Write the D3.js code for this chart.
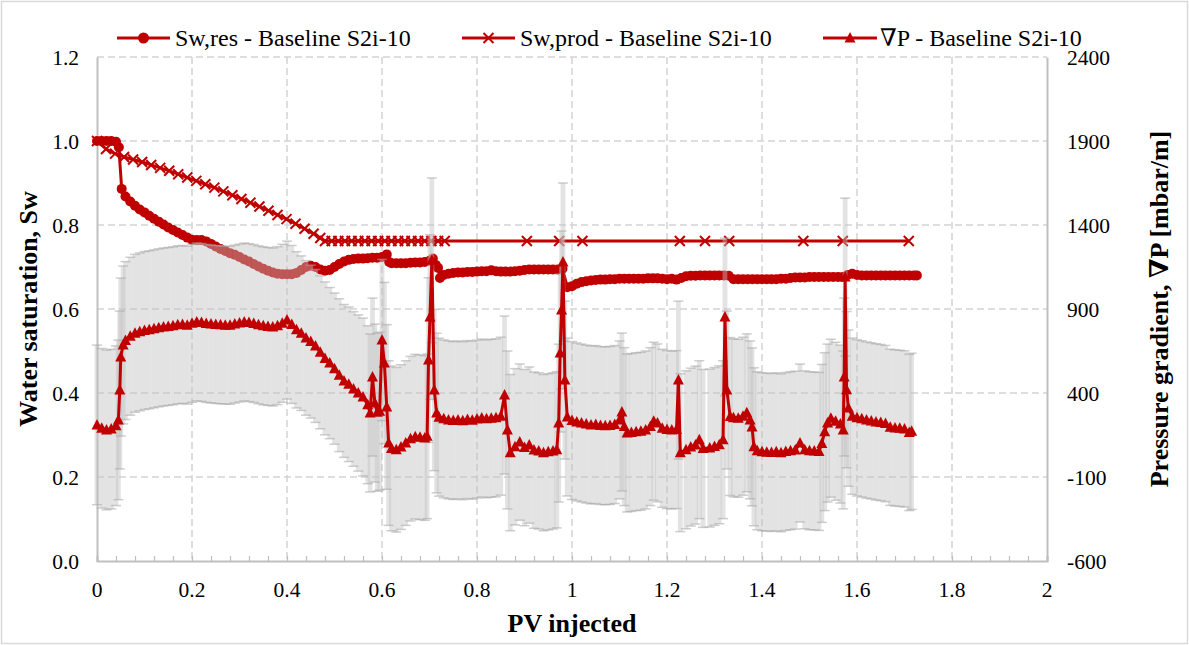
<!DOCTYPE html>
<html>
<head>
<meta charset="utf-8">
<script src="https://cdn.jsdelivr.net/npm/d3@7"></script>
<style>
  html, body { margin: 0; padding: 0; background: #fff; }
  svg, svg text { font-family: "Liberation Serif", "Times New Roman", Tinos, "DejaVu Serif", serif; }
</style>
</head>
<body>
<svg id="chart" width="1189" height="645" font-family="Liberation Serif, Times New Roman, serif"></svg>
<script>
// ---- Data ---------------------------------------------------------------
// Residual water saturation in the core [PV injected, Sw]
const swRes = [
  [0.000,1.000],[0.010,1.000],[0.020,1.000],[0.030,1.000],[0.040,0.998],[0.046,0.985],
  [0.052,0.886],[0.060,0.868],[0.070,0.856],[0.080,0.846],[0.090,0.837],[0.100,0.830],
  [0.110,0.822],[0.120,0.815],[0.130,0.808],[0.140,0.801],[0.150,0.794],[0.160,0.788],
  [0.170,0.782],[0.180,0.776],[0.190,0.770],[0.200,0.765],[0.210,0.764],[0.220,0.764],
  [0.230,0.761],[0.240,0.755],[0.250,0.749],[0.260,0.743],[0.270,0.738],[0.280,0.733],
  [0.290,0.729],[0.300,0.724],[0.310,0.718],[0.320,0.713],[0.330,0.707],[0.340,0.701],
  [0.350,0.696],[0.360,0.691],[0.370,0.687],[0.380,0.684],[0.390,0.683],[0.400,0.683],
  [0.410,0.683],[0.420,0.686],[0.430,0.693],[0.440,0.700],[0.450,0.703],[0.460,0.700],
  [0.470,0.694],[0.480,0.691],[0.490,0.693],[0.500,0.700],[0.510,0.707],[0.520,0.713],
  [0.530,0.717],[0.540,0.719],[0.550,0.720],[0.560,0.720],[0.570,0.721],[0.580,0.722],
  [0.590,0.722],[0.600,0.724],[0.610,0.730],[0.615,0.712],[0.620,0.709],[0.630,0.709],
  [0.640,0.709],[0.650,0.709],[0.660,0.710],[0.670,0.711],[0.680,0.711],[0.690,0.712],
  [0.700,0.715],[0.707,0.720],[0.713,0.705],[0.718,0.698],[0.722,0.674],[0.730,0.681],
  [0.740,0.684],[0.750,0.686],[0.760,0.687],[0.770,0.687],[0.780,0.688],[0.790,0.688],
  [0.800,0.689],[0.810,0.690],[0.820,0.690],[0.830,0.692],[0.840,0.690],[0.850,0.689],
  [0.860,0.689],[0.870,0.689],[0.880,0.690],[0.890,0.691],[0.900,0.693],[0.910,0.694],
  [0.920,0.694],[0.930,0.694],[0.940,0.694],[0.950,0.694],[0.960,0.694],[0.970,0.694],
  [0.980,0.696],[0.990,0.652],[1.000,0.654],[1.010,0.660],[1.020,0.664],[1.030,0.666],
  [1.040,0.668],[1.050,0.669],[1.060,0.670],[1.070,0.670],[1.080,0.671],[1.090,0.671],
  [1.100,0.672],[1.110,0.672],[1.120,0.672],[1.130,0.672],[1.140,0.672],[1.150,0.672],
  [1.160,0.673],[1.170,0.673],[1.180,0.673],[1.190,0.672],[1.200,0.671],[1.210,0.672],
  [1.220,0.670],[1.230,0.674],[1.240,0.678],[1.250,0.679],[1.260,0.679],[1.270,0.680],
  [1.280,0.680],[1.290,0.680],[1.300,0.680],[1.310,0.680],[1.320,0.680],[1.330,0.679],
  [1.340,0.671],[1.350,0.671],[1.360,0.671],[1.370,0.671],[1.380,0.671],[1.390,0.671],
  [1.400,0.671],[1.410,0.671],[1.420,0.671],[1.430,0.671],[1.440,0.672],[1.450,0.672],
  [1.460,0.674],[1.470,0.675],[1.480,0.675],[1.490,0.675],[1.500,0.676],[1.510,0.676],
  [1.520,0.676],[1.530,0.676],[1.540,0.676],[1.550,0.676],[1.560,0.676],[1.570,0.676],
  [1.580,0.681],[1.590,0.684],[1.600,0.681],[1.610,0.680],[1.620,0.680],[1.630,0.680],
  [1.640,0.680],[1.650,0.680],[1.660,0.680],[1.670,0.680],[1.680,0.680],[1.690,0.680],
  [1.700,0.680],[1.710,0.680],[1.720,0.680],[1.726,0.680]
];

// Water saturation of the produced fluid [PV injected, Sw]
const swProd = [
  [0.000,1.000],[0.019,0.981],[0.038,0.970],[0.057,0.962],[0.076,0.956],[0.095,0.950],
  [0.114,0.943],[0.133,0.936],[0.152,0.929],[0.171,0.921],[0.190,0.913],[0.209,0.905],
  [0.228,0.897],[0.247,0.889],[0.266,0.880],[0.285,0.871],[0.304,0.862],[0.323,0.853],
  [0.342,0.844],[0.361,0.834],[0.380,0.824],[0.399,0.814],[0.418,0.803],[0.437,0.791],
  [0.456,0.779],[0.470,0.769],[0.480,0.762],[0.494,0.762],[0.508,0.762],[0.522,0.762],
  [0.536,0.762],[0.550,0.762],[0.564,0.762],[0.578,0.762],[0.592,0.762],[0.606,0.762],
  [0.620,0.762],[0.634,0.762],[0.648,0.762],[0.662,0.762],[0.676,0.762],[0.690,0.762],
  [0.704,0.762],[0.718,0.762],[0.732,0.762],[0.905,0.762],[0.973,0.762],[1.022,0.762],
  [1.227,0.762],[1.280,0.762],[1.331,0.762],[1.487,0.762],[1.570,0.762],[1.709,0.762]
];

// Pressure gradient [PV injected, ∇P mbar/m, error ± mbar/m]
const gradP = [
  [0.000,210,475],[0.010,190,475],[0.020,180,475],[0.030,185,475],[0.040,205,475],[0.045,240,475],
  [0.048,418,470],[0.050,614,470],[0.055,686,470],[0.060,712,470],[0.070,738,470],[0.080,755,470],
  [0.090,764,470],[0.100,772,470],[0.110,776,470],[0.120,782,470],[0.130,788,470],[0.140,793,470],
  [0.150,796,470],[0.160,800,470],[0.170,806,470],[0.180,808,470],[0.190,804,470],[0.200,815,470],
  [0.210,823,470],[0.220,820,470],[0.230,814,470],[0.240,811,470],[0.250,808,470],[0.260,806,470],
  [0.270,804,470],[0.280,803,470],[0.290,810,470],[0.300,816,470],[0.310,823,470],[0.320,819,470],
  [0.330,814,470],[0.340,806,470],[0.350,800,470],[0.360,796,470],[0.370,793,470],[0.380,801,470],
  [0.390,815,470],[0.400,834,470],[0.410,808,470],[0.420,776,465],[0.430,756,460],[0.440,728,460],
  [0.450,706,455],[0.460,680,455],[0.470,642,455],[0.480,606,455],[0.490,578,450],[0.500,545,450],
  [0.510,506,455],[0.520,472,455],[0.530,452,460],[0.540,424,460],[0.550,400,465],[0.560,376,470],
  [0.570,330,470],[0.575,281,470],[0.580,495,470],[0.585,340,470],[0.590,285,470],[0.595,292,470],
  [0.600,715,480],[0.605,578,480],[0.610,317,490],[0.614,102,490],[0.620,70,490],[0.630,62,490],
  [0.640,78,490],[0.650,102,490],[0.660,128,490],[0.670,140,490],[0.680,136,490],[0.690,132,490],
  [0.695,142,490],[0.698,596,490],[0.701,852,490],[0.705,1190,490],[0.710,418,480],[0.715,281,475],
  [0.720,256,470],[0.730,246,470],[0.740,240,470],[0.750,236,470],[0.760,240,470],[0.770,235,470],
  [0.780,242,470],[0.790,238,470],[0.800,245,470],[0.810,251,470],[0.820,246,470],[0.830,250,470],
  [0.840,252,470],[0.850,262,470],[0.858,388,470],[0.864,180,470],[0.870,45,465],[0.880,80,465],
  [0.890,108,465],[0.900,75,465],[0.910,90,465],[0.920,60,465],[0.930,55,465],[0.940,45,465],
  [0.950,50,465],[0.960,55,465],[0.968,62,465],[0.972,221,470],[0.975,638,470],[0.978,894,470],
  [0.981,1180,470],[0.985,477,470],[0.990,257,470],[1.000,236,470],[1.010,228,470],[1.020,221,470],
  [1.030,215,470],[1.040,210,470],[1.050,212,470],[1.060,206,470],[1.070,205,470],[1.080,207,470],
  [1.090,212,470],[1.100,240,470],[1.105,287,470],[1.110,200,470],[1.116,162,470],[1.125,165,470],
  [1.135,170,470],[1.145,172,470],[1.155,180,470],[1.165,200,470],[1.172,232,470],[1.180,222,470],
  [1.190,190,470],[1.200,182,470],[1.210,180,470],[1.220,182,470],[1.224,477,470],[1.228,45,470],
  [1.240,62,470],[1.250,78,470],[1.260,90,470],[1.268,122,470],[1.276,70,470],[1.290,72,470],
  [1.300,82,470],[1.310,92,470],[1.318,122,470],[1.322,852,470],[1.326,418,470],[1.333,260,470],
  [1.340,252,470],[1.350,250,470],[1.360,262,470],[1.368,282,470],[1.375,240,470],[1.379,198,470],
  [1.383,80,470],[1.390,56,470],[1.400,50,470],[1.410,48,470],[1.420,46,470],[1.430,50,470],
  [1.440,44,470],[1.450,52,470],[1.460,56,470],[1.470,60,470],[1.480,102,470],[1.490,62,470],
  [1.500,56,470],[1.510,55,470],[1.520,52,470],[1.526,100,470],[1.532,170,470],[1.538,221,470],
  [1.545,250,470],[1.555,232,470],[1.565,215,470],[1.571,180,470],[1.573,495,470],[1.575,1090,470],
  [1.578,420,465],[1.582,310,465],[1.590,262,465],[1.600,252,465],[1.610,246,465],[1.620,239,465],
  [1.630,234,465],[1.640,228,465],[1.650,224,465],[1.660,218,465],[1.670,196,465],[1.680,192,465],
  [1.690,190,465],[1.700,186,465],[1.710,165,465],[1.715,172,465]
];

const xTicks = [0, 0.2, 0.4, 0.6, 0.8, 1, 1.2, 1.4, 1.6, 1.8, 2];
const xMinorTicks = d3.range(0, 2.0001, 0.04);
const yLeftTicks = [0, 0.2, 0.4, 0.6, 0.8, 1.0, 1.2];
const yRightTicks = [-600, -100, 400, 900, 1400, 1900, 2400];
const seriesNames = ["Sw,res - Baseline S2i-10", "Sw,prod - Baseline S2i-10", "\u2207P - Baseline S2i-10"];
const axisTitles = { x: "PV injected", yLeft: "Water saturation, Sw", yRight: "Pressure gradient, \u2207P [mbar/m]" };

// ---- Layout -------------------------------------------------------------
const W = 1189, H = 645;
const plot = { left: 97, right: 1047, top: 57, bottom: 561 };
const RED = "#C00000";
const AXIS = "#bfbfbf";
const GRID = "#d4d4d4";
const FONT = "Liberation Serif, Times New Roman, Tinos, DejaVu Serif, serif";

const svg = d3.select("#chart");
svg.append("rect").attr("x", 1.5).attr("y", 1.5).attr("width", W - 3).attr("height", H - 3)
  .attr("fill", "#fff").attr("stroke", "#d9d9d9").attr("stroke-width", 1.5);

const x = d3.scaleLinear().domain([0, 2]).range([plot.left, plot.right]);
const yL = d3.scaleLinear().domain([0, 1.2]).range([plot.bottom, plot.top]);
const yR = d3.scaleLinear().domain([-600, 2400]).range([plot.bottom, plot.top]);

// ---- Grid ---------------------------------------------------------------
const grid = svg.append("g");
grid.selectAll("line.h").data(yLeftTicks.filter(d => d > 0)).join("line")
  .attr("x1", plot.left).attr("x2", plot.right)
  .attr("y1", d => yL(d)).attr("y2", d => yL(d))
  .attr("stroke", GRID).attr("stroke-width", 1.5).attr("stroke-dasharray", "7,4");
grid.selectAll("line.v").data(xTicks.filter(d => d > 0 && d < 2)).join("line")
  .attr("x1", d => x(d)).attr("x2", d => x(d))
  .attr("y1", plot.top).attr("y2", plot.bottom)
  .attr("stroke", GRID).attr("stroke-width", 1.5).attr("stroke-dasharray", "7,4");

// ---- Axes ---------------------------------------------------------------
const xAxis = d3.axisBottom(x).tickValues(xMinorTicks).tickSize(-5).tickFormat("");
const gx = svg.append("g").attr("transform", `translate(0,${plot.bottom})`).call(xAxis);
gx.select(".domain").attr("stroke", AXIS).attr("stroke-width", 2);
gx.selectAll(".tick line").attr("stroke", AXIS).attr("stroke-width", 1.2);

const gyl = svg.append("g").attr("transform", `translate(${plot.left},0)`)
  .call(d3.axisLeft(yL).tickValues(yLeftTicks).tickSize(0).tickFormat(""));
gyl.select(".domain").attr("stroke", AXIS).attr("stroke-width", 2);
const gyr = svg.append("g").attr("transform", `translate(${plot.right},0)`)
  .call(d3.axisRight(yR).tickValues(yRightTicks).tickSize(0).tickFormat(""));
gyr.select(".domain").attr("stroke", AXIS).attr("stroke-width", 2);

// Tick labels
const tickFont = 21.5;
svg.append("g").selectAll("text").data(xTicks).join("text")
  .attr("x", d => x(d)).attr("y", 597).attr("text-anchor", "middle")
  .attr("font-family", FONT).attr("font-size", tickFont).attr("fill", "#000")
  .text(d => d3.format("~g")(d));
svg.append("g").selectAll("text").data(yLeftTicks).join("text")
  .attr("x", 79).attr("y", d => yL(d) + 8).attr("text-anchor", "end")
  .attr("font-family", FONT).attr("font-size", tickFont).attr("fill", "#000")
  .text(d => d3.format(".1f")(d));
svg.append("g").selectAll("text").data(yRightTicks).join("text")
  .attr("x", 1067).attr("y", d => yR(d) + 8).attr("text-anchor", "start")
  .attr("font-family", FONT).attr("font-size", tickFont).attr("fill", "#000")
  .text(d => d);

// Axis titles
svg.append("text").attr("x", (plot.left + plot.right) / 2).attr("y", 632)
  .attr("text-anchor", "middle").attr("font-family", FONT).attr("font-size", 26).attr("font-weight", "bold")
  .text(axisTitles.x);
svg.append("text").attr("transform", `translate(37,${(plot.top + plot.bottom) / 2}) rotate(-90)`)
  .attr("text-anchor", "middle").attr("font-family", FONT).attr("font-size", 26).attr("font-weight", "bold")
  .text(axisTitles.yLeft);
svg.append("text").attr("transform", `translate(1168,${(plot.top + plot.bottom) / 2}) rotate(-90)`)
  .attr("text-anchor", "middle").attr("font-family", FONT).attr("font-size", 26).attr("font-weight", "bold")
  .text(axisTitles.yRight);

// ---- Series -------------------------------------------------------------
const crossPath = "M-5,-5L5,5M-5,5L5,-5";
const triPath = "M0,-6L5.5,4.5L-5.5,4.5Z";

// Sw,res
const lineL = d3.line().x(d => x(d[0])).y(d => yL(d[1]));
svg.append("path").datum(swRes).attr("d", lineL)
  .attr("fill", "none").attr("stroke", RED).attr("stroke-width", 3);
svg.append("g").selectAll("circle").data(swRes).join("circle")
  .attr("cx", d => x(d[0])).attr("cy", d => yL(d[1])).attr("r", 5).attr("fill", RED);

// Sw,prod
svg.append("path").datum(swProd).attr("d", lineL)
  .attr("fill", "none").attr("stroke", RED).attr("stroke-width", 3);
svg.append("g").selectAll("path").data(swProd).join("path")
  .attr("transform", d => `translate(${x(d[0])},${yL(d[1])})`)
  .attr("d", crossPath).attr("fill", "none").attr("stroke", RED).attr("stroke-width", 2);

// ∇P error bars
const eb = svg.append("g");
eb.selectAll("line.bar").data(gradP).join("line")
  .attr("x1", d => x(d[0])).attr("x2", d => x(d[0]))
  .attr("y1", d => yR(d[1] + d[2])).attr("y2", d => yR(d[1] - d[2]))
  .attr("stroke", "#c0c0c0").attr("stroke-opacity", 0.45).attr("stroke-width", 4.8);
eb.selectAll("line.capTop").data(gradP).join("line")
  .attr("x1", d => x(d[0]) - 5).attr("x2", d => x(d[0]) + 5)
  .attr("y1", d => yR(d[1] + d[2])).attr("y2", d => yR(d[1] + d[2]))
  .attr("stroke", "#a8a8a8").attr("stroke-opacity", 0.55).attr("stroke-width", 1.5);
eb.selectAll("line.capBot").data(gradP).join("line")
  .attr("x1", d => x(d[0]) - 5).attr("x2", d => x(d[0]) + 5)
  .attr("y1", d => yR(d[1] - d[2])).attr("y2", d => yR(d[1] - d[2]))
  .attr("stroke", "#a8a8a8").attr("stroke-opacity", 0.55).attr("stroke-width", 1.5);

// ∇P
const lineR = d3.line().x(d => x(d[0])).y(d => yR(d[1]));
svg.append("path").datum(gradP).attr("d", lineR)
  .attr("fill", "none").attr("stroke", RED).attr("stroke-width", 3).attr("stroke-linejoin", "round");
svg.append("g").selectAll("path").data(gradP).join("path")
  .attr("transform", d => `translate(${x(d[0])},${yR(d[1])})`)
  .attr("d", triPath).attr("fill", RED);

// ---- Legend -------------------------------------------------------------
const legendItems = [
  { name: seriesNames[0], x0: 117, x1: 170, text: 175, marker: "circle" },
  { name: seriesNames[1], x0: 462, x1: 515, text: 520, marker: "cross" },
  { name: seriesNames[2], x0: 823, x1: 877, text: 880, marker: "triangle" }
];
const lg = svg.append("g").selectAll("g").data(legendItems).join("g");
lg.append("line").attr("x1", d => d.x0).attr("x2", d => d.x1).attr("y1", 38).attr("y2", 38)
  .attr("stroke", RED).attr("stroke-width", 3);
lg.each(function (d) {
  const g = d3.select(this);
  const cx = (d.x0 + d.x1) / 2;
  if (d.marker === "circle") g.append("circle").attr("cx", cx).attr("cy", 38).attr("r", 5.5).attr("fill", RED);
  if (d.marker === "cross") g.append("path").attr("transform", `translate(${cx},38)`).attr("d", crossPath)
    .attr("fill", "none").attr("stroke", RED).attr("stroke-width", 2);
  if (d.marker === "triangle") g.append("path").attr("transform", `translate(${cx},38)`).attr("d", triPath).attr("fill", RED);
});
lg.append("text").attr("x", d => d.text).attr("y", 46)
  .attr("font-family", FONT).attr("font-size", 24).attr("fill", "#000")
  .text(d => d.name);
</script>
</body>
</html>
